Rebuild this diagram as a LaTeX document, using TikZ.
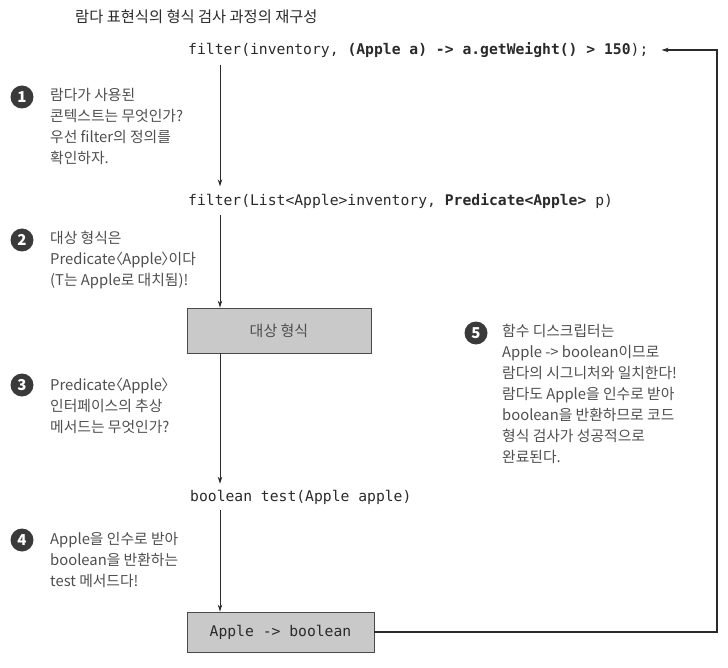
\documentclass[tikz,border=0pt]{standalone}
\usepackage{fontspec}
\setmainfont{Noto Sans CJK KR}
\setmonofont{DejaVu Sans Mono}
\usetikzlibrary{arrows.meta}

\definecolor{ink}{HTML}{2A2A2A}
\definecolor{note}{HTML}{4E4E4E}
\definecolor{boxfill}{HTML}{C9C9C9}
\definecolor{badgefill}{HTML}{3A3A3A}

% tight angle brackets around a type parameter
\newcommand{\typearg}[1]{\kern-0.5em〈\kern-0.05em#1\kern-0.05em〉\kern-0.5em}

\tikzset{
  code/.style={font=\ttfamily\fontsize{14.7}{16}\selectfont, text=ink, anchor=west, inner sep=0pt},
  title/.style={font=\fontsize{15.3}{17}\selectfont, text=ink, anchor=west, inner sep=0pt},
  notetext/.style={font=\fontsize{14.8}{21}\selectfont, text=note, align=left, anchor=north west, inner sep=0pt},
  badge/.style={circle, fill=badgefill, minimum size=23pt, inner sep=0pt, text=white,
                font=\bfseries\fontsize{15}{15}\selectfont},
  typebox/.style={draw=ink!85, fill=boxfill, line width=0.9pt, inner sep=0pt},
  flow/.style={draw=ink, line width=0.8pt, -{Stealth[length=7pt,width=4.5pt]}},
  backloop/.style={draw=ink, line width=1.2pt, -{Stealth[length=7pt,width=4.5pt]}}
}

\begin{document}
\begin{tikzpicture}[x=1pt, y=-1pt]
  \useasboundingbox (0,0) rectangle (728,668);

  % heading
  \node[title] (head) at (75,17) {람다 표현식의 형식 검사 과정의 재구성};

  % code lines and type boxes along the main spine
  \coordinate (spine) at (220,0);
  \coordinate (loopx) at (717,0);

  \node[code] (call) at (188,50) {filter(inventory, \textbf{(Apple a) -> a.getWeight() > 150});};
  \node[code] (decl) at (188,201) {filter(List<Apple>inventory, \textbf{Predicate<Apple>} p)};
  \node[typebox, minimum width=184pt, minimum height=45pt, font=\fontsize{15}{15}\selectfont, text=note]
       (target) at (279,330.5) {대상 형식};
  \node[code] (method) at (190,497) {boolean test(Apple apple)};
  \node[typebox, minimum width=187pt, minimum height=40pt, font=\ttfamily\fontsize{14.7}{16}\selectfont, text=ink]
       (desc) at (280.5,632) {Apple -> boolean};

  % downward flow
  \draw[flow] ([yshift=-7pt]call.south -| spine) -- ([yshift=7pt]decl.north -| spine);
  \draw[flow] ([yshift=-6pt]decl.south -| spine) -- (target.north -| spine);
  \draw[flow] (target.south -| spine) -- ([yshift=6pt]method.north -| spine);
  \draw[flow] ([yshift=-6pt]method.south -| spine) -- (desc.north -| spine);

  % return path from the descriptor back to the lambda
  \draw[backloop] (desc.east) -- (desc.east -| loopx) -- (call.east -| loopx) -- ([xshift=13pt]call.east);

  % numbered notes
  \node[badge] (b1) at (22,97) {1};
  \node[notetext] (n1) at (50,88) {람다가 사용된\\콘텍스트는 무엇인가?\\우선 filter의 정의를\\확인하자.};

  \node[badge] (b2) at (22,240) {2};
  \node[notetext] (n2) at (50,231) {대상 형식은\\Predicate\typearg{Apple}이다\\(T는 Apple로 대치됨)!};

  \node[badge] (b3) at (22,385) {3};
  \node[notetext] (n3) at (50,378) {Predicate\typearg{Apple}\\인터페이스의 추상\\메서드는 무엇인가?};

  \node[badge] (b4) at (22,540) {4};
  \node[notetext] (n4) at (50,532) {Apple을 인수로 받아\\boolean을 반환하는\\test 메서드다!};

  \node[badge] (b5) at (476,333) {5};
  \node[notetext] (n5) at (502,324) {함수 디스크립터는\\Apple -> boolean이므로\\람다의 시그니처와 일치한다!\\람다도 Apple을 인수로 받아\\boolean을 반환하므로 코드\\형식 검사가 성공적으로\\완료된다.};
\end{tikzpicture}
\end{document}
